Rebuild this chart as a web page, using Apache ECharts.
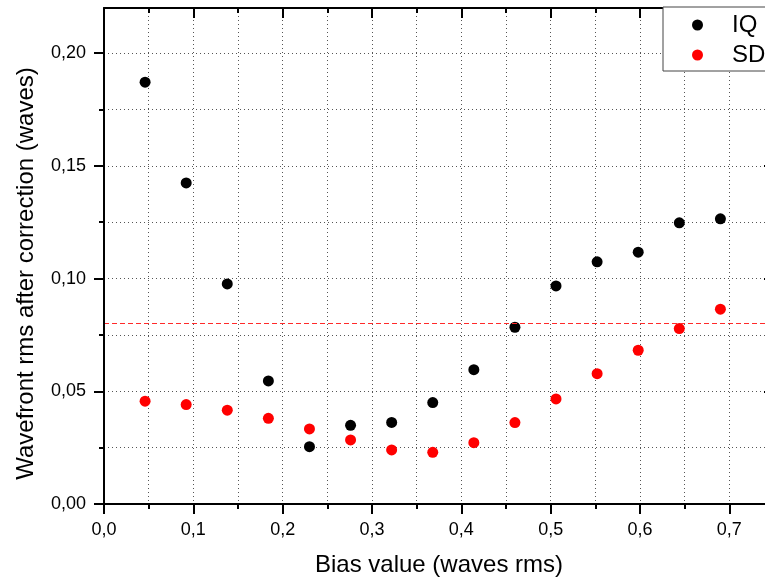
<!DOCTYPE html>
<html>
<head>
<meta charset="utf-8">
<script src="https://cdn.jsdelivr.net/npm/echarts@6/dist/echarts.min.js"></script>
<style>
  html, body { margin: 0; padding: 0; background: #fff; }
  #chart { width: 765px; height: 582px; }
</style>
</head>
<body>
<div id="chart"></div>
<script>
// Bias values (waves rms)
const biasValues = [0.046, 0.092, 0.138, 0.184, 0.230, 0.276, 0.322, 0.368, 0.414, 0.460, 0.506, 0.552, 0.598, 0.644, 0.690];
// Residual wavefront rms after correction (waves)
const iqValues = [0.1871, 0.1424, 0.0976, 0.0546, 0.0254, 0.0349, 0.0362, 0.0450, 0.0596, 0.0784, 0.0967, 0.1074, 0.1117, 0.1247, 0.1265];
const sdValues = [0.0456, 0.0441, 0.0416, 0.0380, 0.0333, 0.0284, 0.0240, 0.0229, 0.0272, 0.0361, 0.0466, 0.0578, 0.0682, 0.0778, 0.0864];
// Threshold level
const thresholdValue = 0.08;
// Tick positions
const xMajorTicks = [0, 0.1, 0.2, 0.3, 0.4, 0.5, 0.6, 0.7];
const xMinorTicks = [0.05, 0.15, 0.25, 0.35, 0.45, 0.55, 0.65];
const yMajorTicks = [0, 0.05, 0.10, 0.15, 0.20];
const yMinorTicks = [0.025, 0.075, 0.125, 0.175];

const FONT = '"Liberation Sans", Arial, sans-serif';
const X_MIN = 0, X_MAX = 0.75, Y_MIN = 0, Y_MAX = 0.22;

const comma = (v, d) => v.toFixed(d).replace('.', ',');

// Frame axis carrying ticks (and optionally labels) at the given values
function tickAxis(position, ticks, len, inside, withLabels, digits, lineOn) {
  const isX = position === 'top' || position === 'bottom';
  return {
    type: 'value',
    position: position,
    min: isX ? X_MIN : Y_MIN,
    max: isX ? X_MAX : Y_MAX,
    z: 5,
    axisLine: { show: lineOn, onZero: false, lineStyle: { color: '#000', width: 2 } },
    axisTick: { show: true, inside: inside, length: len, customValues: ticks,
                lineStyle: { color: '#000', width: 2 } },
    axisLabel: withLabels ? {
      show: true, customValues: ticks, margin: isX ? 17 : 18,
      color: '#000', fontSize: 18, fontFamily: FONT,
      formatter: v => comma(v, digits)
    } : { show: false },
    splitLine: { show: false }
  };
}

// Invisible axis that only draws the dotted grid
function gridAxis(isX) {
  return {
    type: 'value',
    position: isX ? 'bottom' : 'left',
    min: isX ? X_MIN : Y_MIN,
    max: isX ? X_MAX : Y_MAX,
    interval: isX ? 0.05 : 0.025,
    z: 0,
    axisLine: { show: false, onZero: false },
    axisTick: { show: false },
    axisLabel: { show: false },
    splitLine: { show: true, lineStyle: { color: '#555', width: 1, type: [1, 3] } }
  };
}

const xBottom = tickAxis('bottom', xMajorTicks, 10, false, true, 1, true);
xBottom.name = 'Bias value (waves rms)';
xBottom.nameLocation = 'middle';
xBottom.nameGap = 49;
xBottom.nameTextStyle = { color: '#000', fontSize: 24, fontFamily: FONT };

const yLeft = tickAxis('left', yMajorTicks, 10, false, true, 2, true);
yLeft.name = 'Wavefront rms after correction (waves)';
yLeft.nameLocation = 'middle';
yLeft.nameGap = 66;
yLeft.nameTextStyle = { color: '#000', fontSize: 24, fontFamily: FONT, padding: [0, 35, 0, 0] };

const chart = echarts.init(document.getElementById('chart'), null, { renderer: 'canvas' });
chart.setOption({
  animation: false,
  backgroundColor: '#fff',
  grid: { left: 104, right: -9, top: 8, bottom: 78, containLabel: false, outerBoundsMode: 'none' },
  legend: {
    orient: 'vertical',
    left: 663, top: 7,
    padding: [6, 60, 4, 29],
    itemGap: 6,
    itemWidth: 11, itemHeight: 11,
    icon: 'circle',
    backgroundColor: '#fff',
    borderColor: '#444', borderWidth: 1,
    textStyle: { color: '#000', fontSize: 24, fontFamily: FONT, padding: [0, 0, 0, 24] },
    data: ['IQ', 'SD'],
    z: 10
  },
  xAxis: [
    xBottom,
    tickAxis('bottom', xMinorTicks, 5, false, false, 1, false),
    tickAxis('top', xMajorTicks, 10, true, false, 1, true),
    tickAxis('top', xMinorTicks, 5, true, false, 1, false),
    gridAxis(true)
  ],
  yAxis: [
    yLeft,
    tickAxis('left', yMinorTicks, 5, false, false, 2, false),
    tickAxis('right', yMajorTicks, 10, true, false, 2, true),
    tickAxis('right', yMinorTicks, 5, true, false, 2, false),
    gridAxis(false)
  ],
  series: [
    {
      name: 'IQ', type: 'scatter', xAxisIndex: 0, yAxisIndex: 0,
      symbol: 'circle', symbolSize: 11,
      itemStyle: { color: '#000', opacity: 1 },
      data: biasValues.map((x, i) => [x, iqValues[i]]),
      z: 3
    },
    {
      name: 'SD', type: 'scatter', xAxisIndex: 0, yAxisIndex: 0,
      symbol: 'circle', symbolSize: 11,
      itemStyle: { color: '#ff0000', opacity: 1 },
      data: biasValues.map((x, i) => [x, sdValues[i]]),
      markLine: {
        silent: true, symbol: ['none', 'none'], label: { show: false },
        lineStyle: { color: '#ff2a2a', width: 1.2, type: [5, 3], opacity: 1 },
        emphasis: { disabled: true },
        data: [{ yAxis: thresholdValue }]
      },
      z: 3
    }
  ]
});
</script>
</body>
</html>
